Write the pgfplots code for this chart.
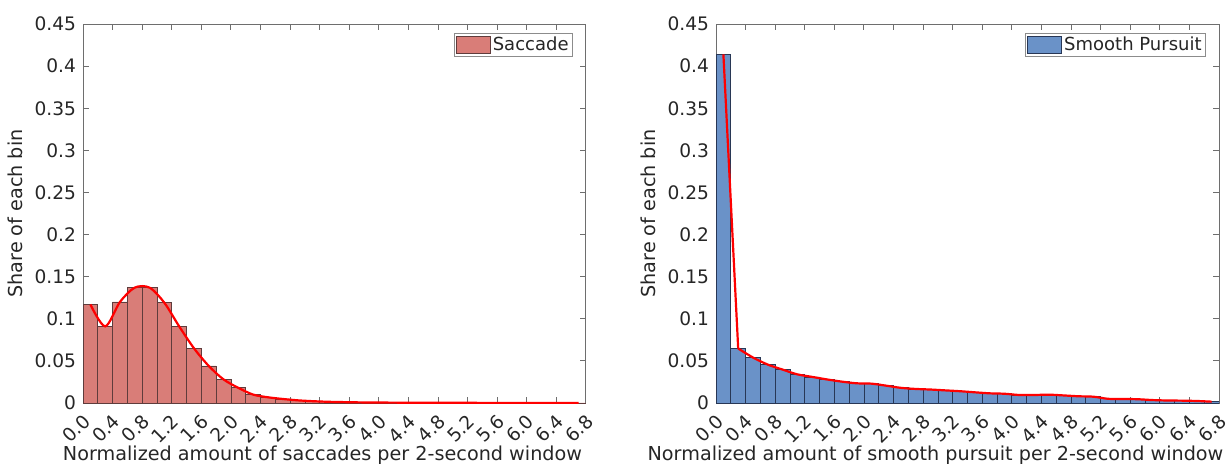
\documentclass[border=0pt]{standalone}
\usepackage{fontspec}
\setmainfont{DejaVu Sans}
\usepackage{pgfplots}
\usepackage{pgfplotstable}
\pgfplotsset{compat=1.18}

\definecolor{sacfill}{RGB}{217,125,120}
\definecolor{sacedge}{RGB}{95,60,60}
\definecolor{spfill}{RGB}{106,146,200}
\definecolor{spedge}{RGB}{40,55,85}
\definecolor{axgray}{RGB}{110,110,110}

% bin left edges (width 0.2), last row repeats the final bin for ybar interval
\pgfplotstableread{
x    sac     sp
0.0  0.117   0.414
0.2  0.091   0.0647
0.4  0.120   0.054
0.6  0.137   0.0456
0.8  0.137   0.0397
1.0  0.119   0.034
1.2  0.091   0.031
1.4  0.065   0.028
1.6  0.044   0.0254
1.8  0.028   0.0234
2.0  0.018   0.023
2.2  0.010   0.0206
2.4  0.0068  0.018
2.6  0.0048  0.0167
2.8  0.0032  0.016
3.0  0.0022  0.015
3.2  0.0015  0.014
3.4  0.0011  0.0127
3.6  0.0008  0.0115
3.8  0.0006  0.011
4.0  0.0005  0.0095
4.2  0.0004  0.0095
4.4  0.0003  0.0099
4.6  0.0003  0.009
4.8  0.0002  0.008
5.0  0.0002  0.0075
5.2  0.0002  0.005
5.4  0.0001  0.0048
5.6  0.0001  0.0045
5.8  0.0001  0.0035
6.0  0.0001  0.003
6.2  0.0001  0.0028
6.4  0.0001  0.0024
6.6  0.0001  0.0016
6.8  0.0001  0.0016
}\bins

\pgfplotsset{
  histax/.style={
    scale only axis, width=251.5pt, height=189.5pt,
    xmin=0, xmax=6.8, ymin=0, ymax=0.45,
    axis line style={axgray, line width=0.5pt},
    every tick/.style={axgray, line width=0.5pt},
    major tick length=2.8pt,
    tick align=inside,
    xtick={0,0.4,0.8,1.2,1.6,2.0,2.4,2.8,3.2,3.6,4.0,4.4,4.8,5.2,5.6,6.0,6.4,6.8},
    xticklabels={0.0,0.4,0.8,1.2,1.6,2.0,2.4,2.8,3.2,3.6,4.0,4.4,4.8,5.2,5.6,6.0,6.4,6.8},
    ytick={0,0.05,...,0.45},
    scaled y ticks=false,
    yticklabel style={/pgf/number format/fixed, /pgf/number format/precision=2},
    /pgf/number format/assume math mode=true,
    xticklabel style={xshift=2pt, yshift=-7.5pt, rotate=45, anchor=east, inner sep=0pt},
    every tick label/.append style={font=\fontsize{9.3}{10}\selectfont, text=black!85},
    label style={font=\fontsize{9.6}{11}\selectfont, text=black!85},
    xlabel style={at={(axis description cs:0.5,0)}, anchor=base, yshift=-28.5pt},
    ylabel={Share of each bin},
    ylabel style={yshift=-1pt},
    legend style={at={(1,1)}, anchor=north east, xshift=-6.5pt, yshift=-4.5pt,
      draw=black!45, line width=0.4pt, inner xsep=1pt, inner ysep=0.5pt,
      font=\fontsize{9}{10}\selectfont, text=black!85,
      nodes={inner sep=1pt}},
    legend image code/.code={\draw[##1] (0pt,-4.3pt) rectangle (17pt,4.3pt);},
  }
}

\begin{document}
\begin{tikzpicture}
\path[use as bounding box] (-41.5pt,-32.5pt) rectangle (574pt,201.5pt);
\begin{axis}[histax, xlabel={Normalized amount of saccades per 2-second window},
  xlabel style={xshift=-6pt}]
  \addplot[ybar interval, fill=sacfill, draw=sacedge, line width=0.4pt] table[x=x, y=sac] {\bins};
  \addlegendentry{Saccade}
  \addplot[red, line width=1.1pt, smooth, tension=0.5, forget plot,
    skip coords between index={34}{35}] table[x expr=\thisrow{x}+0.1, y=sac] {\bins};
\end{axis}

\begin{axis}[histax, xshift=316.5pt, xlabel={Normalized amount of smooth pursuit per 2-second window},
  xlabel style={xshift=-16pt}]
  \addplot[ybar interval, fill=spfill, draw=spedge, line width=0.4pt] table[x=x, y=sp] {\bins};
  \addlegendentry{Smooth Pursuit}
  \addplot[red, line width=1.1pt, forget plot,
    skip coords between index={2}{35}] table[x expr=\thisrow{x}+0.1, y=sp] {\bins};
  \addplot[red, line width=1.1pt, smooth, tension=0.5, forget plot,
    skip coords between index={0}{1}, skip coords between index={34}{35}] table[x expr=\thisrow{x}+0.1, y=sp] {\bins};
\end{axis}
\end{tikzpicture}
\end{document}
